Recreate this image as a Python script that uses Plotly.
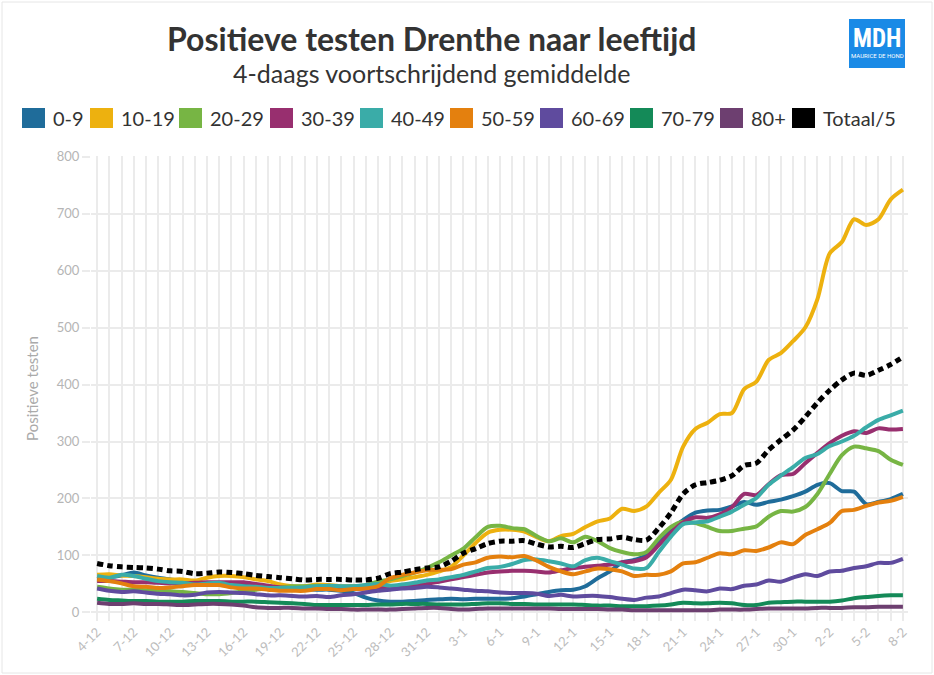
import pandas as pd
import plotly.graph_objects as go

# ---------------- data ----------------
dates = pd.date_range("2020-12-04", "2021-02-08", freq="D")

tick_labels = ["4-12", "7-12", "10-12", "13-12", "16-12", "19-12", "22-12", "25-12",
               "28-12", "31-12", "3-1", "6-1", "9-1", "12-1", "15-1", "18-1", "21-1",
               "24-1", "27-1", "30-1", "2-2", "5-2", "8-2"]
y_ticks = [0, 100, 200, 300, 400, 500, 600, 700, 800]

age_0_9 = [61, 62, 65, 70, 65, 61, 58, 55, 51, 49, 50, 51, 50, 48, 46, 43, 42, 41, 40, 40,
           38, 34, 26, 21, 19, 19, 20, 22, 23, 24, 23, 24, 24, 24, 25, 28, 32, 36, 39, 40,
           46, 60, 72, 88, 92, 101, 122, 146, 162, 175, 179, 180, 186, 194, 189, 194, 198,
           204, 212, 224, 227, 213, 212, 190, 194, 199, 208]
age_10_19 = [66, 67, 65, 64, 62, 59, 58, 58, 56, 61, 64, 64, 62, 58, 55, 49, 46, 46, 49, 48,
             46, 46, 46, 49, 55, 58, 62, 66, 72, 80, 100, 122, 140, 145, 145, 142, 132, 125,
             134, 138, 150, 160, 165, 182, 178, 186, 210, 233, 291, 322, 333, 348, 350, 392,
             405, 443, 455, 476, 500, 550, 630, 650, 690, 680, 690, 725, 742]
age_20_29 = [45, 42, 40, 40, 39, 38, 37, 36, 34, 32, 32, 34, 37, 40, 42, 44, 46, 46, 47, 46,
             45, 46, 48, 54, 58, 64, 70, 78, 88, 100, 112, 132, 150, 152, 148, 146, 134, 125,
             130, 123, 133, 125, 113, 106, 102, 106, 130, 150, 159, 157, 150, 143, 143, 147,
             151, 168, 178, 177, 185, 208, 243, 276, 291, 288, 283, 268, 259]
age_30_39 = [55, 55, 54, 53, 53, 52, 51, 51, 52, 53, 53, 53, 53, 50, 47, 44, 43, 43, 43, 43,
             42, 42, 42, 43, 43, 45, 47, 50, 54, 58, 62, 66, 70, 72, 73, 73, 72, 70, 74, 78,
             80, 82, 84, 88, 90, 97, 118, 140, 158, 167, 166, 172, 185, 208, 206, 225, 241,
             243, 262, 280, 297, 310, 318, 315, 323, 321, 322]
age_40_49 = [64, 61, 66, 64, 59, 55, 53, 52, 49, 51, 52, 48, 46, 45, 43, 43, 43, 44, 46, 47,
             46, 46, 48, 50, 47, 49, 52, 56, 58, 62, 66, 72, 78, 80, 85, 92, 93, 90, 86, 81,
             92, 96, 90, 84, 77, 78, 106, 133, 155, 158, 160, 168, 177, 189, 201, 224, 240,
             255, 271, 278, 292, 300, 310, 325, 338, 346, 354]
age_50_59 = [58, 55, 51, 46, 45, 43, 44, 46, 48, 48, 48, 44, 42, 42, 40, 38, 38, 38, 41, 41,
             39, 41, 42, 46, 60, 66, 70, 74, 75, 76, 84, 88, 96, 98, 97, 99, 91, 80, 72, 67,
             72, 77, 76, 72, 64, 66, 66, 72, 86, 88, 96, 104, 102, 109, 108, 114, 123, 120,
             136, 146, 157, 178, 180, 187, 193, 196, 203]
age_60_69 = [42, 38, 36, 37, 35, 33, 32, 30, 31, 35, 36, 35, 34, 32, 30, 30, 29, 28, 29, 27,
             30, 32, 35, 38, 40, 42, 43, 45, 44, 42, 40, 38, 37, 35, 34, 34, 33, 29, 31, 28,
             29, 29, 27, 24, 22, 26, 28, 34, 40, 39, 37, 42, 41, 47, 49, 56, 54, 61, 67, 64,
             72, 73, 78, 81, 87, 87, 94]
age_70_79 = [24, 22, 21, 20, 20, 19, 19, 19, 20, 20, 20, 19, 19, 19, 18, 17, 16, 15, 13, 13,
             13, 13, 13, 14, 14, 15, 15, 15, 14, 14, 14, 15, 16, 16, 15, 15, 14, 14, 14, 14,
             13, 12, 12, 11, 11, 11, 12, 14, 17, 16, 16, 17, 16, 13, 13, 17, 18, 19, 19, 19,
             19, 21, 25, 27, 29, 30, 30]
age_80_plus = [17, 15, 15, 16, 15, 15, 14, 13, 14, 15, 15, 14, 12, 9, 8, 8, 8, 7, 7, 6,
               6, 5, 5, 5, 5, 6, 7, 8, 8, 6, 5, 6, 7, 7, 7, 7, 7, 7, 6, 6,
               6, 6, 5, 5, 4, 4, 4, 4, 4, 4, 4, 5, 5, 5, 6, 7, 7, 7, 7, 8,
               8, 8, 9, 9, 10, 10, 10]
totaal_5 = [86, 82, 80, 79, 78, 76, 73, 72, 68, 69, 71, 70, 68, 65, 63, 61, 59, 57, 58, 58,
            58, 57, 57, 60, 68, 71, 75, 78, 80, 90, 104, 112, 121, 125, 125, 126, 120, 115,
            116, 114, 121, 128, 129, 132, 128, 127, 148, 175, 208, 224, 228, 232, 240, 258,
            262, 285, 303, 320, 343, 368, 390, 408, 420, 416, 425, 435, 448]

series_names = ["0-9", "10-19", "20-29", "30-39", "40-49", "50-59", "60-69", "70-79",
                "80+", "Totaal/5"]
series_values = [age_0_9, age_10_19, age_20_29, age_30_39, age_40_49, age_50_59,
                 age_60_69, age_70_79, age_80_plus, totaal_5]
series_colors = ["#1f6c9a", "#edb10f", "#77b544", "#982f6f", "#3aaca8", "#e4800e",
                 "#5f4b9e", "#148a58", "#6d3f70", "#000000"]

FONT = "Lato"
W, H = 934, 675
ML, MR, MT, MB = 91, 26, 156, 54
PW, PH = W - ML - MR, H - MT - MB


def px(x):
    return (x - ML) / PW


def py(y):
    return (H - MB - y) / PH


fig = go.Figure()

for name, vals, col in zip(series_names, series_values, series_colors):
    is_total = name == "Totaal/5"
    fig.add_trace(go.Scatter(
        x=dates, y=vals, name=name, mode="lines", showlegend=False,
        line=dict(color=col, width=5 if is_total else 4, shape="spline", smoothing=0.8,
                  dash="6px,4px" if is_total else "solid"),
    ))

grid_col = "#ebebeb"

fig.update_layout(
    width=W, height=H,
    paper_bgcolor="white", plot_bgcolor="white",
    margin=dict(l=ML, r=MR, t=MT, b=MB, autoexpand=False),
    font=dict(family=FONT, color="#333333"),
    showlegend=False,
    xaxis=dict(
        type="date",
        range=["2020-12-03 12:00", "2021-02-08 10:00"],
        tickvals=dates[::3], ticktext=tick_labels,
        tickangle=-45,
        tickfont=dict(family=FONT, size=13, color="#bcbcbc"),
        showgrid=True, gridcolor=grid_col, gridwidth=2,
        minor=dict(dtick=86400000, showgrid=True, gridcolor=grid_col, gridwidth=2),
        ticks="", showline=False, zeroline=False,
    ),
    yaxis=dict(
        range=[-15, 801],
        tickvals=y_ticks,
        tickfont=dict(family=FONT, size=13, color="#b5b5b5"),
        showgrid=True, gridcolor=grid_col, gridwidth=2,
        ticks="outside", ticklen=8, tickcolor=grid_col, tickwidth=2,
        zeroline=False, showline=False,
        title=dict(text="Positieve testen", font=dict(family=FONT, size=15, color="#aaaaaa"),
                   standoff=14),
    ),
)

# title + subtitle
fig.add_annotation(text="<b>Positieve testen Drenthe naar leeftijd</b>",
                   xref="paper", yref="paper", x=px(432), y=py(38),
                   xanchor="center", yanchor="middle", showarrow=False,
                   font=dict(family=FONT, size=32, color="#333333"))
fig.add_annotation(text="4-daags voortschrijdend gemiddelde",
                   xref="paper", yref="paper", x=px(431), y=py(73),
                   xanchor="center", yanchor="middle", showarrow=False,
                   font=dict(family=FONT, size=25, color="#333333"))

# legend (swatches + labels)
legend_left = [22, 90, 179, 270, 360, 450, 540, 630, 720, 792]
LEG_Y = 118
for name, col, lx in zip(series_names, series_colors, legend_left):
    fig.add_shape(type="rect", xref="paper", yref="paper",
                  x0=px(lx), x1=px(lx + 23), y0=py(LEG_Y + 10), y1=py(LEG_Y - 10),
                  fillcolor=col, line=dict(width=0), layer="above")
    fig.add_annotation(text=name, xref="paper", yref="paper",
                       x=px(lx + 29), y=py(LEG_Y), xanchor="left", yanchor="middle",
                       showarrow=False, font=dict(family=FONT, size=20, color="#333333"))

# logo
fig.add_shape(type="rect", xref="paper", yref="paper",
              x0=px(849), x1=px(905), y0=py(68), y1=py(19),
              fillcolor="#1a8ae6", line=dict(width=0), layer="above")
fig.add_annotation(text="<b>MDH</b>", xref="paper", yref="paper",
                   x=px(877), y=py(39), xanchor="center", yanchor="middle", showarrow=False,
                   font=dict(family="Roboto Condensed, Roboto", size=25, color="white"))
fig.add_annotation(text="MAURICE DE HOND", xref="paper", yref="paper",
                   x=px(877), y=py(56), xanchor="center", yanchor="middle", showarrow=False,
                   font=dict(family="Roboto", size=6, color="white"))

# outer frame
fig.add_shape(type="rect", xref="paper", yref="paper",
              x0=px(2), x1=px(932), y0=py(673), y1=py(2),
              line=dict(color="#e6e6e6", width=1), fillcolor="rgba(0,0,0,0)", layer="below")

fig.write_html("out.html", config={"displayModeBar": False},
               post_script="document.body.style.margin='0px';")
